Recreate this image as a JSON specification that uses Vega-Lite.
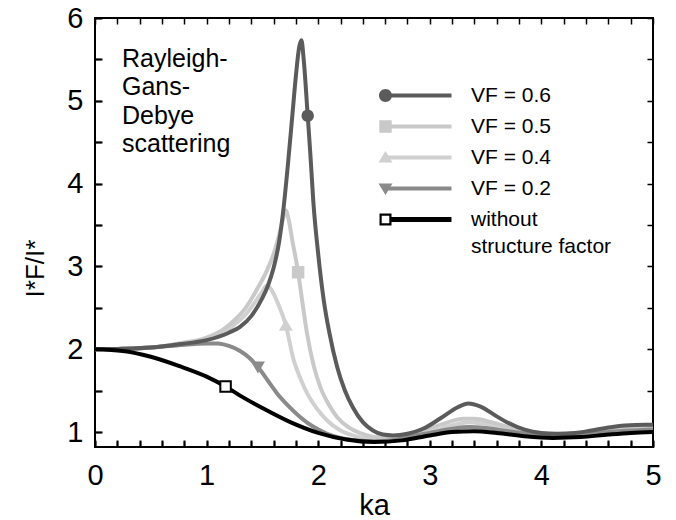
{
  "$schema": "https://vega.github.io/schema/vega-lite/v6.json",
  "autosize": "none",
  "width": 558,
  "height": 429,
  "padding": {"left": 95, "top": 18, "right": 23, "bottom": 73},
  "config": {
    "view": {"stroke": "#000", "strokeWidth": 2},
    "font": "Liberation Sans",
    "axis": {"labelColor": "#000", "titleColor": "#000", "labelFont": "Liberation Sans", "titleFont": "Liberation Sans", "titleFontWeight": "normal"}
  },
  "datasets": {
    "curves": [
      {"series": "VF = 0.4", "ka": 0, "value": 2.0},
      {"series": "VF = 0.4", "ka": 0.25, "value": 2.005},
      {"series": "VF = 0.4", "ka": 0.5, "value": 2.02},
      {"series": "VF = 0.4", "ka": 0.75, "value": 2.06},
      {"series": "VF = 0.4", "ka": 1.0, "value": 2.12},
      {"series": "VF = 0.4", "ka": 1.15, "value": 2.2},
      {"series": "VF = 0.4", "ka": 1.25, "value": 2.3},
      {"series": "VF = 0.4", "ka": 1.35, "value": 2.42},
      {"series": "VF = 0.4", "ka": 1.45, "value": 2.6},
      {"series": "VF = 0.4", "ka": 1.5, "value": 2.7},
      {"series": "VF = 0.4", "ka": 1.54, "value": 2.77},
      {"series": "VF = 0.4", "ka": 1.58, "value": 2.72},
      {"series": "VF = 0.4", "ka": 1.64, "value": 2.55},
      {"series": "VF = 0.4", "ka": 1.71, "value": 2.29},
      {"series": "VF = 0.4", "ka": 1.78, "value": 1.87},
      {"series": "VF = 0.4", "ka": 1.84, "value": 1.65},
      {"series": "VF = 0.4", "ka": 1.9, "value": 1.47},
      {"series": "VF = 0.4", "ka": 1.99, "value": 1.28},
      {"series": "VF = 0.4", "ka": 2.08, "value": 1.14},
      {"series": "VF = 0.4", "ka": 2.2, "value": 1.02},
      {"series": "VF = 0.4", "ka": 2.31, "value": 0.96},
      {"series": "VF = 0.4", "ka": 2.45, "value": 0.92},
      {"series": "VF = 0.4", "ka": 2.6, "value": 0.92},
      {"series": "VF = 0.4", "ka": 2.8, "value": 0.95},
      {"series": "VF = 0.4", "ka": 3.0, "value": 1.0},
      {"series": "VF = 0.4", "ka": 3.2, "value": 1.08},
      {"series": "VF = 0.4", "ka": 3.35, "value": 1.12},
      {"series": "VF = 0.4", "ka": 3.5, "value": 1.1},
      {"series": "VF = 0.4", "ka": 3.7, "value": 1.04},
      {"series": "VF = 0.4", "ka": 3.95, "value": 0.98},
      {"series": "VF = 0.4", "ka": 4.15, "value": 0.96},
      {"series": "VF = 0.4", "ka": 4.4, "value": 0.99},
      {"series": "VF = 0.4", "ka": 4.7, "value": 1.03},
      {"series": "VF = 0.4", "ka": 5.0, "value": 1.05},

      {"series": "VF = 0.5", "ka": 0, "value": 2.0},
      {"series": "VF = 0.5", "ka": 0.25, "value": 2.005},
      {"series": "VF = 0.5", "ka": 0.5, "value": 2.02},
      {"series": "VF = 0.5", "ka": 0.75, "value": 2.07},
      {"series": "VF = 0.5", "ka": 1.0, "value": 2.14},
      {"series": "VF = 0.5", "ka": 1.15, "value": 2.24},
      {"series": "VF = 0.5", "ka": 1.25, "value": 2.35},
      {"series": "VF = 0.5", "ka": 1.35, "value": 2.5},
      {"series": "VF = 0.5", "ka": 1.45, "value": 2.72},
      {"series": "VF = 0.5", "ka": 1.54, "value": 2.95},
      {"series": "VF = 0.5", "ka": 1.6, "value": 3.15},
      {"series": "VF = 0.5", "ka": 1.65, "value": 3.38},
      {"series": "VF = 0.5", "ka": 1.69, "value": 3.6},
      {"series": "VF = 0.5", "ka": 1.71, "value": 3.68},
      {"series": "VF = 0.5", "ka": 1.73, "value": 3.6},
      {"series": "VF = 0.5", "ka": 1.77, "value": 3.3},
      {"series": "VF = 0.5", "ka": 1.82, "value": 2.93},
      {"series": "VF = 0.5", "ka": 1.86, "value": 2.55},
      {"series": "VF = 0.5", "ka": 1.9, "value": 2.19},
      {"series": "VF = 0.5", "ka": 1.96, "value": 1.8},
      {"series": "VF = 0.5", "ka": 2.02, "value": 1.54},
      {"series": "VF = 0.5", "ka": 2.1, "value": 1.32},
      {"series": "VF = 0.5", "ka": 2.17, "value": 1.18},
      {"series": "VF = 0.5", "ka": 2.27, "value": 1.06},
      {"series": "VF = 0.5", "ka": 2.37, "value": 0.99},
      {"series": "VF = 0.5", "ka": 2.5, "value": 0.94},
      {"series": "VF = 0.5", "ka": 2.6, "value": 0.93},
      {"series": "VF = 0.5", "ka": 2.75, "value": 0.95},
      {"series": "VF = 0.5", "ka": 2.9, "value": 1.0},
      {"series": "VF = 0.5", "ka": 3.1, "value": 1.09},
      {"series": "VF = 0.5", "ka": 3.3, "value": 1.16},
      {"series": "VF = 0.5", "ka": 3.4, "value": 1.16},
      {"series": "VF = 0.5", "ka": 3.55, "value": 1.12},
      {"series": "VF = 0.5", "ka": 3.75, "value": 1.04},
      {"series": "VF = 0.5", "ka": 4.0, "value": 0.98},
      {"series": "VF = 0.5", "ka": 4.15, "value": 0.97},
      {"series": "VF = 0.5", "ka": 4.4, "value": 1.0},
      {"series": "VF = 0.5", "ka": 4.7, "value": 1.04},
      {"series": "VF = 0.5", "ka": 5.0, "value": 1.06},

      {"series": "VF = 0.2", "ka": 0, "value": 2.0},
      {"series": "VF = 0.2", "ka": 0.25, "value": 2.005},
      {"series": "VF = 0.2", "ka": 0.5, "value": 2.02},
      {"series": "VF = 0.2", "ka": 0.75, "value": 2.05},
      {"series": "VF = 0.2", "ka": 1.0, "value": 2.07},
      {"series": "VF = 0.2", "ka": 1.1, "value": 2.07},
      {"series": "VF = 0.2", "ka": 1.2, "value": 2.04},
      {"series": "VF = 0.2", "ka": 1.3, "value": 1.98},
      {"series": "VF = 0.2", "ka": 1.38, "value": 1.9},
      {"series": "VF = 0.2", "ka": 1.46, "value": 1.785},
      {"series": "VF = 0.2", "ka": 1.55, "value": 1.62},
      {"series": "VF = 0.2", "ka": 1.63, "value": 1.47},
      {"series": "VF = 0.2", "ka": 1.73, "value": 1.32},
      {"series": "VF = 0.2", "ka": 1.84, "value": 1.18},
      {"series": "VF = 0.2", "ka": 1.95, "value": 1.07},
      {"series": "VF = 0.2", "ka": 2.08, "value": 0.98},
      {"series": "VF = 0.2", "ka": 2.2, "value": 0.93},
      {"series": "VF = 0.2", "ka": 2.35, "value": 0.9},
      {"series": "VF = 0.2", "ka": 2.5, "value": 0.89},
      {"series": "VF = 0.2", "ka": 2.65, "value": 0.9},
      {"series": "VF = 0.2", "ka": 2.8, "value": 0.94},
      {"series": "VF = 0.2", "ka": 3.0, "value": 0.99},
      {"series": "VF = 0.2", "ka": 3.2, "value": 1.04},
      {"series": "VF = 0.2", "ka": 3.35, "value": 1.06},
      {"series": "VF = 0.2", "ka": 3.5, "value": 1.05},
      {"series": "VF = 0.2", "ka": 3.7, "value": 1.01},
      {"series": "VF = 0.2", "ka": 3.95, "value": 0.97},
      {"series": "VF = 0.2", "ka": 4.15, "value": 0.96},
      {"series": "VF = 0.2", "ka": 4.4, "value": 0.98},
      {"series": "VF = 0.2", "ka": 4.7, "value": 1.01},
      {"series": "VF = 0.2", "ka": 5.0, "value": 1.03},

      {"series": "VF = 0.6", "ka": 0, "value": 2.0},
      {"series": "VF = 0.6", "ka": 0.25, "value": 2.005},
      {"series": "VF = 0.6", "ka": 0.5, "value": 2.02},
      {"series": "VF = 0.6", "ka": 0.75, "value": 2.06},
      {"series": "VF = 0.6", "ka": 1.0, "value": 2.11},
      {"series": "VF = 0.6", "ka": 1.2, "value": 2.2},
      {"series": "VF = 0.6", "ka": 1.3, "value": 2.27},
      {"series": "VF = 0.6", "ka": 1.4, "value": 2.4},
      {"series": "VF = 0.6", "ka": 1.5, "value": 2.62},
      {"series": "VF = 0.6", "ka": 1.55, "value": 2.77},
      {"series": "VF = 0.6", "ka": 1.6, "value": 2.98},
      {"series": "VF = 0.6", "ka": 1.65, "value": 3.3},
      {"series": "VF = 0.6", "ka": 1.69, "value": 3.71},
      {"series": "VF = 0.6", "ka": 1.73, "value": 4.25},
      {"series": "VF = 0.6", "ka": 1.77, "value": 4.85},
      {"series": "VF = 0.6", "ka": 1.8, "value": 5.3},
      {"series": "VF = 0.6", "ka": 1.83, "value": 5.65},
      {"series": "VF = 0.6", "ka": 1.85, "value": 5.73},
      {"series": "VF = 0.6", "ka": 1.87, "value": 5.5},
      {"series": "VF = 0.6", "ka": 1.906, "value": 4.82},
      {"series": "VF = 0.6", "ka": 1.93, "value": 4.35},
      {"series": "VF = 0.6", "ka": 1.956, "value": 3.79},
      {"series": "VF = 0.6", "ka": 2.0, "value": 3.15},
      {"series": "VF = 0.6", "ka": 2.05, "value": 2.59},
      {"series": "VF = 0.6", "ka": 2.1, "value": 2.2},
      {"series": "VF = 0.6", "ka": 2.17, "value": 1.785},
      {"series": "VF = 0.6", "ka": 2.24, "value": 1.5},
      {"series": "VF = 0.6", "ka": 2.31, "value": 1.3},
      {"series": "VF = 0.6", "ka": 2.4, "value": 1.12},
      {"series": "VF = 0.6", "ka": 2.49, "value": 1.02},
      {"series": "VF = 0.6", "ka": 2.58, "value": 0.97},
      {"series": "VF = 0.6", "ka": 2.67, "value": 0.96},
      {"series": "VF = 0.6", "ka": 2.8, "value": 0.98},
      {"series": "VF = 0.6", "ka": 2.94, "value": 1.04},
      {"series": "VF = 0.6", "ka": 3.1, "value": 1.17},
      {"series": "VF = 0.6", "ka": 3.25, "value": 1.3},
      {"series": "VF = 0.6", "ka": 3.345, "value": 1.345},
      {"series": "VF = 0.6", "ka": 3.45, "value": 1.31},
      {"series": "VF = 0.6", "ka": 3.6, "value": 1.19},
      {"series": "VF = 0.6", "ka": 3.69, "value": 1.12},
      {"series": "VF = 0.6", "ka": 3.85, "value": 1.03},
      {"series": "VF = 0.6", "ka": 4.0, "value": 0.99},
      {"series": "VF = 0.6", "ka": 4.14, "value": 0.98},
      {"series": "VF = 0.6", "ka": 4.3, "value": 0.99},
      {"series": "VF = 0.6", "ka": 4.45, "value": 1.02},
      {"series": "VF = 0.6", "ka": 4.58, "value": 1.05},
      {"series": "VF = 0.6", "ka": 4.75, "value": 1.08},
      {"series": "VF = 0.6", "ka": 4.93, "value": 1.09},
      {"series": "VF = 0.6", "ka": 5.0, "value": 1.09},

      {"series": "without structure factor", "ka": 0, "value": 2.0},
      {"series": "without structure factor", "ka": 0.25, "value": 1.98},
      {"series": "without structure factor", "ka": 0.5, "value": 1.91},
      {"series": "without structure factor", "ka": 0.75, "value": 1.8},
      {"series": "without structure factor", "ka": 1.0, "value": 1.67},
      {"series": "without structure factor", "ka": 1.17, "value": 1.55},
      {"series": "without structure factor", "ka": 1.3, "value": 1.44},
      {"series": "without structure factor", "ka": 1.5, "value": 1.29},
      {"series": "without structure factor", "ka": 1.75, "value": 1.12},
      {"series": "without structure factor", "ka": 2.0, "value": 0.99},
      {"series": "without structure factor", "ka": 2.25, "value": 0.91},
      {"series": "without structure factor", "ka": 2.5, "value": 0.88},
      {"series": "without structure factor", "ka": 2.75, "value": 0.9},
      {"series": "without structure factor", "ka": 3.0, "value": 0.96},
      {"series": "without structure factor", "ka": 3.2, "value": 1.0},
      {"series": "without structure factor", "ka": 3.4, "value": 1.01},
      {"series": "without structure factor", "ka": 3.6, "value": 0.99},
      {"series": "without structure factor", "ka": 3.85, "value": 0.95},
      {"series": "without structure factor", "ka": 4.1, "value": 0.93},
      {"series": "without structure factor", "ka": 4.35, "value": 0.94},
      {"series": "without structure factor", "ka": 4.6, "value": 0.97},
      {"series": "without structure factor", "ka": 4.8, "value": 0.99},
      {"series": "without structure factor", "ka": 5.0, "value": 1.0}
    ],
    "markers": [
      {"series": "VF = 0.6", "ka": 1.906, "value": 4.82},
      {"series": "VF = 0.5", "ka": 1.82, "value": 2.93},
      {"series": "VF = 0.4", "ka": 1.71, "value": 2.29},
      {"series": "VF = 0.2", "ka": 1.46, "value": 1.785},
      {"series": "without structure factor", "ka": 1.17, "value": 1.55}
    ]
  },
  "layer": [
    {
      "data": {"name": "curves"},
      "mark": {"type": "line", "strokeWidth": 4, "interpolate": "monotone", "strokeCap": "round", "strokeJoin": "round", "clip": true},
      "encoding": {
        "x": {"field": "ka", "type": "quantitative", "scale": {"domain": [0, 5], "nice": false},
          "axis": {"orient": "bottom", "tickCount": 25,
            "labelExpr": "abs(datum.value - round(datum.value)) < 0.001 ? format(datum.value, 'd') : ''", "domain": false,
            "grid": true, "gridColor": "black", "gridOpacity": 1, "gridWidth": 1.5, "gridDash": [6, 417],
            "tickColor": "black", "tickWidth": 2, "tickSize": -7, "labelFlush": false, "labelOverlap": false,
            "labelFontSize": 29, "labelPadding": 21, "title": "ka", "titleFontSize": 29, "titlePadding": 1}},
        "y": {"field": "value", "type": "quantitative", "scale": {"domain": [0.82, 6], "nice": false, "zero": false},
          "axis": {"orient": "left", "tickCount": 10,
            "labelExpr": "abs(datum.value - round(datum.value)) < 0.001 ? format(datum.value, 'd') : ''", "domain": false,
            "grid": true, "gridColor": "black", "gridOpacity": 1, "gridWidth": 1.5, "gridDash": [6, 546],
            "tickColor": "black", "tickWidth": 2, "tickSize": -7, "labelFlush": false, "labelOverlap": false,
            "labelFontSize": 29, "labelPadding": 19, "title": "I*F/I*", "titleFontSize": 26, "titlePadding": 18, "titleY": 250}},
        "color": {"field": "series", "type": "nominal",
          "scale": {"domain": ["VF = 0.6", "VF = 0.5", "VF = 0.4", "VF = 0.2", "without structure factor"], "range": ["#5b5b5b", "#c9c9c9", "#d0d0d0", "#8a8a8a", "#000000"]},
          "legend": null}
      }
    },
    {
      "data": {"name": "markers"},
      "mark": {"type": "point", "filled": true, "strokeWidth": 2, "opacity": 1},
      "encoding": {
        "x": {"field": "ka", "type": "quantitative", "axis": null},
        "y": {"field": "value", "type": "quantitative", "axis": null},
        "shape": {"field": "series", "type": "nominal",
          "scale": {"domain": ["VF = 0.6", "VF = 0.5", "VF = 0.4", "VF = 0.2", "without structure factor"], "range": ["circle", "square", "triangle-up", "triangle-down", "square"]},
          "legend": null},
        "fill": {"field": "series", "type": "nominal",
          "scale": {"domain": ["VF = 0.6", "VF = 0.5", "VF = 0.4", "VF = 0.2", "without structure factor"], "range": ["#5b5b5b", "#c9c9c9", "#d0d0d0", "#8a8a8a", "#ffffff"]},
          "legend": null},
        "stroke": {"field": "series", "type": "nominal",
          "scale": {"domain": ["VF = 0.6", "VF = 0.5", "VF = 0.4", "VF = 0.2", "without structure factor"], "range": ["#5b5b5b", "#c9c9c9", "#d0d0d0", "#8a8a8a", "#000000"]},
          "legend": null},
        "size": {"value": 110}
      }
    },
    {
      "data": {"name": "markers"},
      "mark": {"type": "point", "filled": true, "opacity": 0, "size": 400},
      "encoding": {
        "x": {"field": "ka", "type": "quantitative", "axis": null},
        "y": {"field": "value", "type": "quantitative", "axis": null},
        "color": {"field": "series", "type": "nominal",
          "scale": {"domain": ["VF = 0.6", "VF = 0.5", "VF = 0.4", "VF = 0.2", "without structure factor"], "range": ["#5b5b5b", "#c9c9c9", "#d0d0d0", "#8a8a8a", "#000000"]},
          "legend": {"orient": "none", "legendX": 280, "legendY": 67, "title": null, "padding": 0, "labelFontSize": 21, "labelFont": "Liberation Sans", "labelColor": "#000", "symbolSize": 400, "symbolOffset": 0, "labelOffset": 75, "rowPadding": 9, "symbolStrokeWidth": 0, "symbolOpacity": 1, "labelLimit": 300,
            "labelExpr": "datum.label === 'without structure factor' ? ['without', 'structure factor'] : datum.label",
            "encode": {"labels": {"update": {"lineHeight": {"value": 27}}}}}},
        "shape": {"field": "series", "type": "nominal",
          "scale": {"domain": ["VF = 0.6", "VF = 0.5", "VF = 0.4", "VF = 0.2", "without structure factor"],
            "range": [
              "M0.65,0A0.65,0.65,0,1,1,-0.65,0A0.65,0.65,0,1,1,0.65,0Z M0,-0.2H6.6V0.2H0Z",
              "M-0.62,-0.62H0.62V0.62H-0.62Z M0,-0.2H6.6V0.2H0Z",
              "M0,-0.65L0.7,0.5L-0.7,0.5Z M0,-0.2H6.6V0.2H0Z",
              "M0,0.65L-0.7,-0.5L0.7,-0.5Z M0,-0.2H6.6V0.2H0Z",
              "M-0.6,-0.6H0.6V0.6H-0.6Z M-0.38,-0.38V0.38H0.38V-0.38Z M0.6,-0.25H6.6V0.25H0.6Z"
            ]},
          "legend": {"orient": "none", "legendX": 280, "legendY": 67, "title": null, "padding": 0, "labelFontSize": 21, "labelFont": "Liberation Sans", "labelColor": "#000", "symbolSize": 400, "symbolOffset": 0, "labelOffset": 75, "rowPadding": 9, "symbolStrokeWidth": 0, "symbolOpacity": 1, "labelLimit": 300,
            "labelExpr": "datum.label === 'without structure factor' ? ['without', 'structure factor'] : datum.label",
            "encode": {"labels": {"update": {"lineHeight": {"value": 27}}}}}}
      }
    },
    {
      "data": {"values": [{}]},
      "mark": {"type": "text", "align": "left", "baseline": "alphabetic", "fontSize": 25, "lineHeight": 28.5, "font": "Liberation Sans", "color": "#000",
        "text": ["Rayleigh-", "Gans-", "Debye", "scattering"]},
      "encoding": {
        "x": {"datum": 0.242, "type": "quantitative", "axis": null},
        "y": {"datum": 5.41, "type": "quantitative", "axis": null}
      }
    }
  ],
  "resolve": {"scale": {"shape": "independent", "color": "independent"}, "axis": {"x": "independent", "y": "independent"}}
}
